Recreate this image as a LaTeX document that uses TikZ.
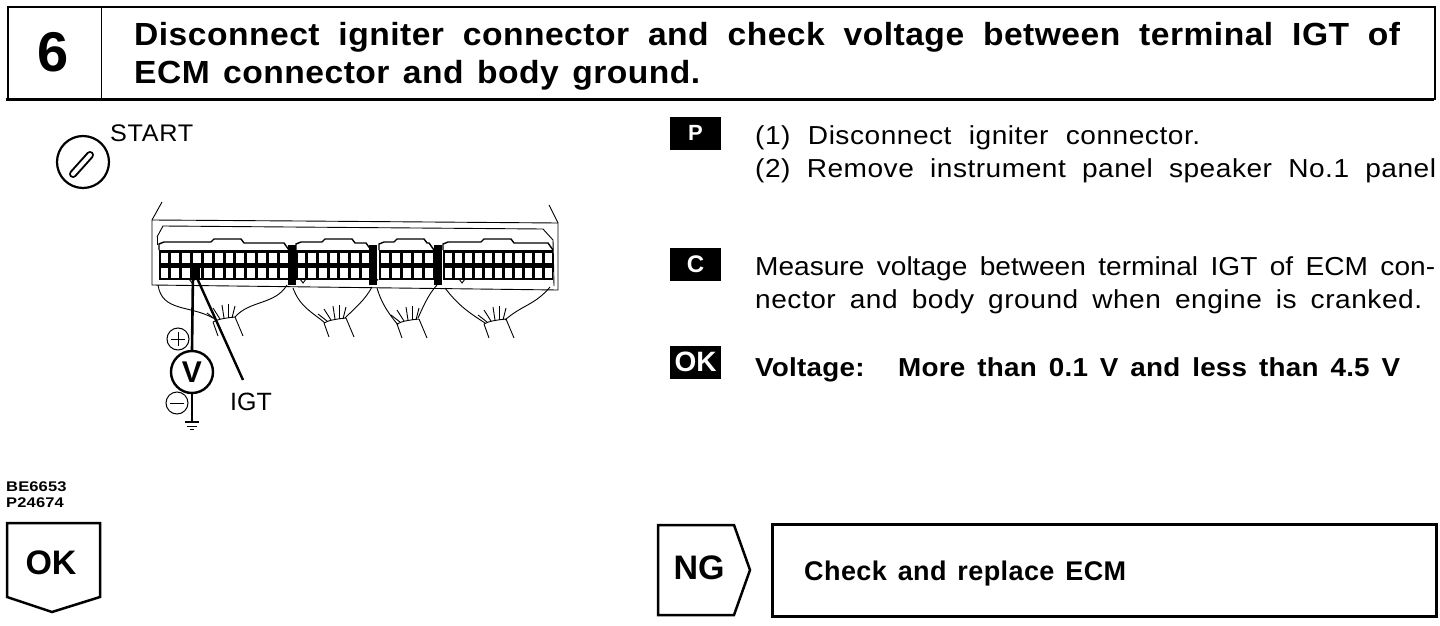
\documentclass[tikz,border=0pt]{standalone}
\usepackage{fontspec}
\setmainfont{Liberation Sans}
\newcommand{\fs}[1]{\fontsize{#1}{#1}\selectfont}
\newcommand{\fit}[4]{\makebox[#1pt][s]{\addfontfeatures{LetterSpace=#2,FakeStretch=#3}#4}}
\newcommand{\ecmconn}[4]{% x0, x1, cols, bump
  \fill[black] (#1,250) rectangle (#2,279.5);
  \pgfmathsetmacro{\cw}{(#2-#1)/#3}
  \foreach \i in {1,...,#3}{
    \pgfmathsetmacro{\xa}{#1+(\i-1)*\cw+1.5}
    \pgfmathsetmacro{\xb}{#1+\i*\cw-1.5}
    \fill[white] (\xa,252.5) rectangle (\xb,263);
    \fill[white] (\xa,267.5) rectangle (\xb,277.5);
  }
  \draw[line width=1.4pt] (#1,250) -- (#1,244) -- (#1+5,242) -- (#1+#4,242) -- (#1+#4+3,239) -- (#1+#4+30,239) -- (#1+#4+33,243) -- (#2-5,243) -- (#2,250);
  \draw[wire] (#1+#4-22,279) -- (#1+#4-19,283) -- (#1+#4-16,279);
}
\newcommand{\harness}[2]{% cable centre x, top y
  \draw[wire] (#1-11,#2+2) .. controls (#1-6,#2-1) and (#1+2,#2-2) .. (#1+11,#2-3);
  \draw[wire] (#1-11,#2+2) -- (#1-6,#2+16);
  \draw[wire] (#1+11,#2-3) -- (#1+19,#2+16);
  \draw[wire] (#1-8,#2) -- (#1-17,#2-7);
  \draw[wire] (#1-4,#2-1) -- (#1-11,#2-12);
  \draw[wire] (#1,#2-2) -- (#1-2,#2-15);
  \draw[wire] (#1+4,#2-2) -- (#1+4,#2-16);
  \draw[wire] (#1+8,#2-2) -- (#1+11,#2-14);
}
\tikzset{
  wire/.style={line width=0.9pt},
  lbl/.style={inner sep=0pt,anchor=base west,text=black},
  boxline/.style={line width=2.5pt,draw=black},
  badge/.style={fill=black,text=white,inner sep=0pt,minimum width=51pt,minimum height=33pt},
}
\begin{document}
\begin{tikzpicture}[x=1pt,y=-1pt]
\useasboundingbox (0,0) rectangle (1440,626);
% header
\node[draw=black,line width=2pt,inner sep=0pt,minimum width=1427pt,minimum height=92pt,anchor=north west] (hdr) at (7,6) {};
\coordinate (da) at (101,6); \coordinate (db) at (101,98);
\draw[line width=1pt] (da) -- (db);
\draw[line width=3pt] (6,99) -- (1434,99);
\node[inner sep=0pt,font=\fs{56}\bfseries] (six) at (53,52) {6};
\node[lbl,font=\fs{32}\bfseries] (h1) at (134,46) {\fit{1266}{1.5}{1.05}{Disconnect igniter connector and check voltage between terminal IGT of}};
\node[lbl,font=\fs{32}\bfseries] (h2) at (134,84) {\fit{566}{1.5}{1.05}{ECM connector and body ground.}};
% key
\node[draw=black,circle,line width=2.2pt,minimum size=52pt,inner sep=0pt] (key) at (83,162) {};
\draw[line width=8pt,line cap=round] (73,174) -- (90,155);
\draw[line width=4pt,line cap=round,white] (73,174) -- (90,155);
\node[lbl,font=\fs{24}] (start) at (110,141) {\fit{85}{3}{1.05}{START}};
% ECM body
\draw[wire] (162,202) -- (152,220) -- (152,285) -- (558,290) -- (558,223) -- (549,205);
\draw[wire] (152,220) -- (300,221) -- (558,223);
\draw[wire] (157,237) -- (163,226) -- (543,229) -- (553,240) -- (554,286);
\draw[wire] (157,237) -- (157,245);
\ecmconn{159}{289}{12}{52}
\ecmconn{296}{371}{7}{26}
\ecmconn{379}{434}{5}{15}
\ecmconn{443}{553}{11}{38}
\foreach \x in {292,373,438}{\fill[black] (\x-4,245) rectangle (\x+4,285);}
\fill[black] (190,267) rectangle (200,280);
% looms
\draw[wire] (158,285) .. controls (162,312) and (190,305) .. (213,318);
\draw[wire] (287,285) .. controls (275,305) and (250,300) .. (235,317);
\harness{224}{320}
\draw[wire] (293,288) .. controls (300,307) and (312,312) .. (325,323);
\draw[wire] (372,287) .. controls (365,300) and (355,308) .. (345,318);
\harness{335}{321}
\draw[wire] (377,288) .. controls (382,305) and (390,315) .. (398,325);
\draw[wire] (437,285) .. controls (428,295) and (424,305) .. (418,318);
\harness{408}{322}
\draw[wire] (445,288) .. controls (458,305) and (468,312) .. (485,323);
\draw[wire] (550,287) .. controls (535,305) and (522,305) .. (505,320);
\harness{495}{322}
% meter
\node[draw=black,circle,line width=2.4pt,minimum size=42pt,inner sep=0pt,fill=white,font=\fs{30}\bfseries] (v) at (192,372) {V};
\coordinate (pin) at (193,273);
\coordinate (igtpin) at (197,278);
\draw[line width=2.6pt] (pin) -- (v.north);
\node[draw=black,circle,line width=1pt,minimum size=22pt,inner sep=0pt] (plus) at (178,339) {};
\draw[line width=1pt] (171,339) -- (185,339) (178,332) -- (178,346);
\node[draw=black,circle,line width=1pt,minimum size=22pt,inner sep=0pt] (minus) at (177,403) {};
\draw[line width=1pt] (170,403) -- (184,403);
\coordinate (gnd) at (192,422);
\draw[line width=2.2pt] (v.south) -- (gnd);
\draw[line width=1.8pt] (185,422) -- (199,422);
\draw[line width=1pt] (187,426) -- (197,426) (190,429) -- (194,429);
\node[lbl,font=\fs{25}] (igt) at (230,410) {IGT};
\coordinate (igtend) at (243,380);
\draw[line width=2.4pt] (igtpin) -- (igtend);
% codes
\node[lbl,font=\fs{14}\bfseries] (c1) at (6,491) {\fit{62}{1}{1.18}{BE6653}};
\node[lbl,font=\fs{14}\bfseries] (c2) at (6,507) {\fit{62}{1}{1.18}{P24674}};
% right column
\node[badge,font=\fs{22}\bfseries] (p) at (695.5,133) {P};
\node[badge,font=\fs{24}\bfseries] (c) at (695.5,264.5) {C};
\node[badge,font=\fs{28}\bfseries] (ok) at (695.5,362) {OK};
\node[lbl,font=\fs{26}] (t1) at (755,144) {\fit{445}{2}{1.08}{(1) Disconnect igniter connector.}};
\node[lbl,font=\fs{26}] (t2) at (755,177) {\fit{681}{2}{1.08}{(2) Remove instrument panel speaker No.1 panel}};
\node[lbl,font=\fs{26}] (t3) at (755,275) {\fit{680}{0}{1.08}{Measure voltage between terminal IGT of ECM con-}};
\node[lbl,font=\fs{26}] (t4) at (755,308) {\fit{667}{2}{1.08}{nector and body ground when engine is cranked.}};
\node[lbl,font=\fs{26}\bfseries] (t5) at (755,376) {\fit{111}{1}{1.07}{Voltage:}};
\node[lbl,font=\fs{26}\bfseries] (t6) at (898,376) {\fit{502}{1}{1.07}{More than 0.1 V and less than 4.5 V}};
% OK pentagon
\draw[boxline,line join=miter] (7,523) -- (100,523) -- (100,597) -- (52,612) -- (7,597) -- cycle;
\node[inner sep=0pt,font=\fs{34}\bfseries] (oklbl) at (51,563) {OK};
% NG
\draw[boxline] (658,525) -- (734,525) -- (750,570) -- (734,615) -- (658,615) -- cycle;
\node[inner sep=0pt,font=\fs{34}\bfseries] (nglbl) at (699,568) {NG};
\node[draw=black,line width=2.5pt,inner sep=0pt,minimum width=664pt,minimum height=92pt,anchor=north west] (repl) at (771,523) {};
\node[lbl,font=\fs{27}\bfseries] (rt) at (804,580) {\fit{322}{1.5}{1.0}{Check and replace ECM}};
\end{tikzpicture}
\end{document}
